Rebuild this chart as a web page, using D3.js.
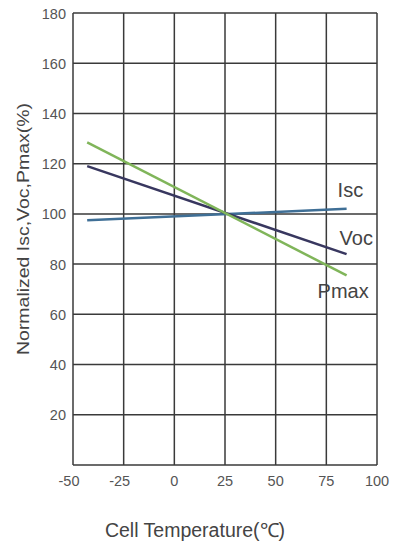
<!DOCTYPE html>
<html>
<head>
<meta charset="utf-8">
<script src="https://cdn.jsdelivr.net/npm/d3@7"></script>
<style>
  body { margin: 0; background: #fff; }
  text { font-family: "Liberation Sans", Arial, sans-serif; }
</style>
</head>
<body>
<svg id="chart" width="393" height="543"></svg>
<script>
// data
const temps = [-43, 85];
const iscValues = [97.5, 102];
const vocValues = [119, 84];
const pmaxValues = [128.5, 75.5];
const seriesNames = ['Isc', 'Voc', 'Pmax'];
const xTicks = [-50, -25, 0, 25, 50, 75, 100];
const yTicks = [20, 40, 60, 80, 100, 120, 140, 160, 180];

const svg = d3.select('#chart');
const plotLeft = 73, plotRight = 377, plotTop = 13, plotBottom = 465;

const x = d3.scaleLinear().domain([-50, 100]).range([plotLeft, plotRight]);
const y = d3.scaleLinear().domain([0, 180]).range([plotBottom, plotTop]);

const gridColor = '#3a3a3a';
const tickColor = '#555';
const labelColor = '#444';

// grid
svg.append('g').selectAll('line')
    .data(xTicks)
    .enter().append('line')
    .attr('x1', d => x(d)).attr('x2', d => x(d))
    .attr('y1', plotTop).attr('y2', plotBottom)
    .attr('stroke', gridColor).attr('stroke-width', 1.5);

svg.append('g').selectAll('line')
    .data([0].concat(yTicks))
    .enter().append('line')
    .attr('x1', plotLeft).attr('x2', plotRight)
    .attr('y1', d => y(d)).attr('y2', d => y(d))
    .attr('stroke', gridColor).attr('stroke-width', 1.5);

// tick labels
svg.append('g').selectAll('text')
    .data(xTicks)
    .enter().append('text')
    .attr('x', d => x(d) - (d < 0 ? 4 : 0))
    .attr('y', plotBottom + 21)
    .attr('text-anchor', 'middle')
    .attr('font-size', 14.5)
    .attr('fill', tickColor)
    .text(d => d);

svg.append('g').selectAll('text')
    .data(yTicks)
    .enter().append('text')
    .attr('x', plotLeft - 7)
    .attr('y', d => y(d) + 5.5)
    .attr('text-anchor', 'end')
    .attr('font-size', 14.5)
    .attr('fill', tickColor)
    .text(d => d);

// series
const series = [
    { name: 'Isc', values: iscValues, color: '#3f6f96' },
    { name: 'Voc', values: vocValues, color: '#38375f' },
    { name: 'Pmax', values: pmaxValues, color: '#80b55a' }
];

const line = d3.line()
    .x(d => x(d[0]))
    .y(d => y(d[1]));

series.forEach(s => {
    svg.append('path')
        .datum(temps.map((t, i) => [t, s.values[i]]))
        .attr('d', line)
        .attr('fill', 'none')
        .attr('stroke', s.color)
        .attr('stroke-width', 2.5);
});

// series labels, placed next to the line ends
const endX = x(temps[1]);
svg.append('text').attr('x', endX - 9).attr('y', y(iscValues[1]) - 12)
    .attr('font-size', 20).attr('fill', labelColor).text(seriesNames[0]);
svg.append('text').attr('x', endX - 7).attr('y', y(vocValues[1]) - 9)
    .attr('font-size', 20).attr('fill', labelColor).text(seriesNames[1]);
svg.append('text').attr('x', endX - 29).attr('y', y(pmaxValues[1]) + 22.5)
    .attr('font-size', 20).attr('fill', labelColor).text(seriesNames[2]);

// axis titles
svg.append('text')
    .attr('transform', 'translate(29, 229) rotate(-90)')
    .attr('text-anchor', 'middle')
    .attr('font-size', 17)
    .attr('textLength', 252)
    .attr('lengthAdjust', 'spacingAndGlyphs')
    .attr('fill', labelColor)
    .text('Normalized Isc,Voc,Pmax(%)');

svg.append('text')
    .attr('x', 195)
    .attr('y', 537)
    .attr('text-anchor', 'middle')
    .attr('font-size', 19.5)
    .attr('fill', labelColor)
    .text('Cell Temperature(℃)');
</script>
</body>
</html>
